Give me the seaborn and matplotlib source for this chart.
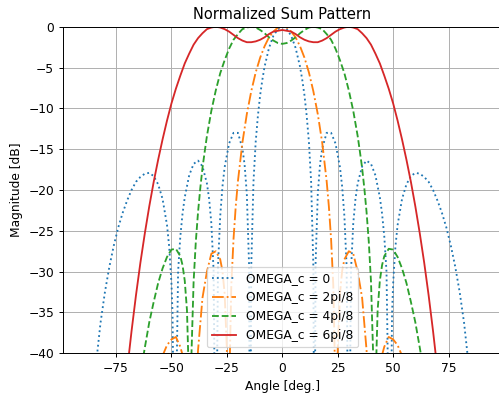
import matplotlib
matplotlib.use("Agg")
import matplotlib.pyplot as plt
import seaborn as sns

title = "Normalized Sum Pattern"
x_label = "Angle [deg.]"
y_label = "Magnitude [dB]"
labels = ["OMEGA_c = 0", "OMEGA_c = 2pi/8", "OMEGA_c = 4pi/8", "OMEGA_c = 6pi/8"]
x_ticks = [-75, -50, -25, 0, 25, 50, 75]
y_ticks = [0, -5, -10, -15, -20, -25, -30, -35, -40]

# OMEGA_c = 0
blue_angle = [-90, -88, -86, -84, -82, -80, -78, -76, -74, -72,
              -70, -68, -66, -64, -62, -60, -58, -56, -54, -52,
              -51, -50, -49.5, -48.6, -47, -46, -45, -44, -42, -40,
              -38, -36, -34, -33, -32, -31, -30, -29, -28, -27,
              -26, -24, -22, -20, -18, -17, -16, -15, -14.5, -14,
              -13, -12, -11, -10, -9, -8, -6, -4, -2,
              0,
              2, 4, 6, 8, 9, 10, 11, 12, 13, 14,
              14.5, 15, 16, 17, 18, 20, 22, 24, 26, 27,
              28, 29, 30, 31, 32, 33, 34, 36, 38, 40,
              42, 44, 45, 46, 47, 48.6, 49.5, 50, 51, 52,
              54, 56, 58, 60, 62, 64, 66, 68, 70, 72,
              74, 76, 78, 80, 82, 84, 86, 88, 90]
blue_db = [-60, -60, -48.3, -41.3, -36.3, -32.5, -29.4, -26.8, -24.6, -22.8,
           -21.3, -20.0, -19.0, -18.4, -18.0, -17.9, -18.3, -19.3, -21.1, -24.3,
           -27.0, -31.4, -35.1, -60, -30.0, -25.7, -22.9, -20.9, -18.2, -16.8,
           -16.4, -17.1, -19.2, -21.1, -24.1, -29.8, -60, -29.3, -23.2, -19.6,
           -17.2, -14.3, -13.0, -13.0, -14.9, -16.9, -20.5, -29.1, -60, -29.3,
           -19.0, -14.1, -10.9, -8.4, -6.5, -4.9, -2.6, -1.1, -0.3,
           0.0,
           -0.3, -1.1, -2.6, -4.9, -6.5, -8.4, -10.9, -14.1, -19.0, -29.3,
           -60, -29.1, -20.5, -16.9, -14.9, -13.0, -13.0, -14.3, -17.2, -19.6,
           -23.2, -29.3, -60, -29.8, -24.1, -21.1, -19.2, -17.1, -16.4, -16.8,
           -18.2, -20.9, -22.9, -25.7, -30.0, -60, -35.1, -31.4, -27.0, -24.3,
           -21.1, -19.3, -18.3, -17.9, -18.0, -18.4, -19.0, -20.0, -21.3, -22.8,
           -24.6, -26.8, -29.4, -32.5, -36.3, -41.3, -48.3, -60, -60]

# OMEGA_c = 2pi/8
orange_angle = [-90, -80, -70, -64, -60, -56, -54, -52, -50, -48,
                -46, -44, -42, -40.6, -39, -38, -36, -34, -32, -30,
                -28, -27, -26, -25, -24.3, -24, -23, -22, -21, -20,
                -18, -16, -14, -12, -10, -8, -6, -4, -2,
                0,
                2, 4, 6, 8, 10, 12, 14, 16, 18, 20,
                21, 22, 23, 24, 24.3, 25, 26, 27, 28, 30,
                32, 34, 36, 38, 39, 40.6, 42, 44, 46, 48,
                50, 52, 54, 56, 60, 64, 70, 80, 90]
orange_db = [-60, -60, -60, -53.4, -46.9, -42.1, -40.3, -39.0, -38.3, -38.0,
             -39.2, -41.2, -46.6, -60, -44.4, -39.6, -33.2, -30.0, -27.8, -27.5,
             -28.5, -29.9, -32.7, -39.5, -60, -45.1, -31.7, -26.0, -22.0, -18.9,
             -14.2, -10.7, -7.9, -5.6, -3.8, -2.4, -1.3, -0.6, -0.1,
             0.0,
             -0.1, -0.6, -1.3, -2.4, -3.8, -5.6, -7.9, -10.7, -14.2, -18.9,
             -22.0, -26.0, -31.7, -45.1, -60, -39.5, -32.7, -29.9, -28.5, -27.5,
             -27.8, -30.0, -33.2, -39.6, -44.4, -60, -46.6, -41.2, -39.2, -38.0,
             -38.3, -39.0, -40.3, -42.1, -46.9, -53.4, -60, -60, -60]

# OMEGA_c = 4pi/8
green_angle = [-90, -80, -70, -66, -64, -62, -60, -58, -56, -54,
               -52, -50, -48, -46, -45, -44, -43, -42, -41.6, -41,
               -40, -39, -38, -37, -36, -35, -34, -32, -30, -28,
               -26, -24, -22, -20, -18, -16, -14, -12, -10, -8,
               -6, -4, -2,
               0,
               2, 4, 6, 8, 10, 12, 14, 16, 18, 20,
               22, 24, 26, 28, 30, 32, 34, 35, 36, 37,
               38, 39, 40, 41, 41.6, 42, 43, 44, 45, 46,
               48, 50, 52, 54, 56, 58, 60, 62, 64, 66,
               70, 80, 90]
green_db = [-60, -60, -55.4, -46.3, -42.5, -39.3, -36.2, -33.7, -31.4, -29.6,
            -28.2, -27.3, -27.2, -28.1, -29.2, -31.1, -34.7, -44.3, -60, -40.4,
            -31.2, -26.3, -22.7, -19.8, -17.3, -15.3, -13.4, -10.3, -7.8, -5.7,
            -4.1, -2.7, -1.6, -0.9, -0.3, -0.1, 0.0, -0.1, -0.4, -0.8,
            -1.3, -1.7, -2.0,
            -2.1,
            -2.0, -1.7, -1.3, -0.8, -0.4, -0.1, 0.0, -0.1, -0.3, -0.9,
            -1.6, -2.7, -4.1, -5.7, -7.8, -10.3, -13.4, -15.3, -17.3, -19.8,
            -22.7, -26.3, -31.2, -40.4, -60, -44.3, -34.7, -31.1, -29.2, -28.1,
            -27.2, -27.3, -28.2, -29.6, -31.4, -33.7, -36.2, -39.3, -42.5, -46.3,
            -55.4, -60, -60]

# OMEGA_c = 6pi/8
red_angle = [-90, -80, -74, -72, -70, -68, -66, -64, -62, -60,
             -58, -56, -54, -52, -50, -48, -46, -44, -42, -40,
             -38, -36, -34, -32, -30, -28, -26, -24, -22, -20,
             -18, -16, -14, -12, -10, -8, -6, -4, -2,
             0,
             2, 4, 6, 8, 10, 12, 14, 16, 18, 20,
             22, 24, 26, 28, 30, 32, 34, 36, 38, 40,
             42, 44, 46, 48, 50, 52, 54, 56, 58, 60,
             62, 64, 66, 68, 70, 72, 74, 80, 90]
red_db = [-60, -60, -53.2, -47.6, -42.1, -37.3, -32.9, -28.9, -25.3, -22.0,
          -19.0, -16.3, -13.8, -11.5, -9.4, -7.6, -6.0, -4.5, -3.3, -2.2,
          -1.4, -0.8, -0.3, -0.1, 0.0, -0.1, -0.3, -0.6, -1.0, -1.4,
          -1.7, -1.9, -1.9, -1.8, -1.6, -1.3, -0.9, -0.6, -0.5,
          -0.4,
          -0.5, -0.6, -0.9, -1.3, -1.6, -1.8, -1.9, -1.9, -1.7, -1.4,
          -1.0, -0.6, -0.3, -0.1, 0.0, -0.1, -0.3, -0.8, -1.4, -2.2,
          -3.3, -4.5, -6.0, -7.6, -9.4, -11.5, -13.8, -16.3, -19.0, -22.0,
          -25.3, -28.9, -32.9, -37.3, -42.1, -47.6, -53.2, -60, -60]

W, H = 499, 394
DPI = 88
fig = plt.figure(figsize=(W / DPI, H / DPI), dpi=DPI)
ax = fig.add_axes([62.8 / W, (H - 353.3) / H, (501.8 - 62.8) / W, (353.3 - 26.7) / H])

series = [
    (blue_angle, blue_db, "C0", ":"),
    (orange_angle, orange_db, "C1", "-."),
    (green_angle, green_db, "C2", "--"),
    (red_angle, red_db, "C3", "-"),
]
for (xa, ya, col, ls), lab in zip(series, labels):
    sns.lineplot(x=xa, y=ya, ax=ax, color=col, linestyle=ls, linewidth=1.5,
                 label=lab, estimator=None, sort=False)

ax.set_xlim(-99, 99)
ax.set_ylim(-40, 0)
ax.set_xticks(x_ticks)
ax.set_yticks(y_ticks)
ax.grid(True)
ax.set_title(title, fontsize=12)
ax.set_xlabel(x_label)
ax.set_ylabel(y_label)
ax.legend(loc="lower center")

fig.savefig("out.png", dpi=DPI)
